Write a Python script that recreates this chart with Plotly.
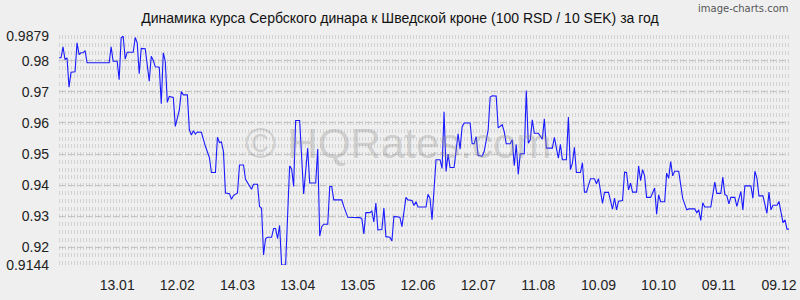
import pandas as pd
import plotly.graph_objects as go

# ---- data ----
start_date = "2014-12-15"
day_offsets = [0, 1, 2, 3, 4, 5, 6, 8, 9, 10, 11, 12, 13, 14, 25, 26, 27, 29, 30, 31, 32, 33, 34, 37, 38, 39, 40, 41, 43, 44,
               45, 46, 47, 48, 50, 51, 52, 53, 54, 55, 57, 58, 60, 61, 62, 64, 65, 66, 67, 68, 69, 71, 73, 75, 76, 78, 79, 80, 81, 82,
               83, 85, 86, 87, 89, 90, 92, 93, 95, 96, 97, 99, 100, 101, 102, 103, 104, 106, 107, 108, 109, 110, 111, 113, 115, 116, 117, 118, 120, 121,
               122, 124, 125, 128, 129, 130, 131, 132, 134, 135, 136, 137, 141, 142, 144, 150, 151, 152, 153, 155, 156, 157, 158, 159, 161, 162, 163, 165, 166, 167,
               170, 171, 173, 174, 176, 177, 178, 179, 181, 183, 184, 185, 186, 188, 190, 191, 192, 193, 194, 195, 197, 198, 199, 200, 201, 202, 205, 206, 207, 208,
               209, 211, 212, 214, 215, 216, 218, 219, 220, 221, 222, 223, 225, 226, 227, 228, 229, 230, 232, 233, 234, 235, 236, 237, 239, 241, 242, 243, 246, 247,
               248, 249, 250, 251, 253, 254, 255, 256, 257, 258, 260, 261, 262, 263, 265, 267, 268, 269, 270, 271, 272, 274, 276, 277, 278, 279, 281, 282, 283, 284,
               285, 286, 288, 289, 290, 291, 292, 293, 295, 297, 298, 299, 300, 302, 303, 304, 305, 306, 307, 309, 311, 313, 314, 317, 318, 319, 320, 321, 322, 325,
               327, 328, 330, 331, 332, 333, 334, 335, 337, 338, 340, 341, 342, 345, 346, 347, 348, 349, 351, 353, 354, 355, 356, 358, 359, 361, 362, 363, 364]
rates = [0.9809, 0.9809, 0.9844, 0.9803, 0.9809, 0.9715, 0.9763, 0.9764, 0.9857, 0.9819, 0.9825, 0.9825, 0.9832, 0.9793, 0.9793, 0.9844, 0.9798, 0.9798, 0.9739, 0.9873,
         0.9879, 0.9805, 0.9827, 0.9827, 0.9874, 0.9857, 0.9758, 0.9839, 0.9838, 0.9793, 0.9734, 0.9814, 0.9801, 0.9780, 0.9779, 0.9662, 0.9825, 0.9798, 0.9666, 0.9685,
         0.9682, 0.9589, 0.9642, 0.9701, 0.9690, 0.9690, 0.9578, 0.9561, 0.9575, 0.9564, 0.9571, 0.9570, 0.9525, 0.9489, 0.9441, 0.9441, 0.9554, 0.9537, 0.9539, 0.9508,
         0.9375, 0.9373, 0.9355, 0.9367, 0.9375, 0.9465, 0.9465, 0.9419, 0.9396, 0.9387, 0.9403, 0.9403, 0.9332, 0.9326, 0.9176, 0.9229, 0.9233, 0.9233, 0.9261, 0.9261,
         0.9229, 0.9271, 0.9144, 0.9144, 0.9462, 0.9452, 0.9396, 0.9608, 0.9608, 0.9492, 0.9372, 0.9519, 0.9407, 0.9407, 0.9516, 0.9237, 0.9267, 0.9275, 0.9275, 0.9396,
         0.9396, 0.9353, 0.9353, 0.9332, 0.9297, 0.9296, 0.9293, 0.9244, 0.9312, 0.9312, 0.9317, 0.9282, 0.9343, 0.9257, 0.9258, 0.9327, 0.9235, 0.9233, 0.9221, 0.9300,
         0.9297, 0.9267, 0.9361, 0.9353, 0.9351, 0.9335, 0.9347, 0.9330, 0.9330, 0.9330, 0.9371, 0.9358, 0.9289, 0.9482, 0.9482, 0.9454, 0.9636, 0.9444, 0.9500, 0.9457,
         0.9457, 0.9508, 0.9565, 0.9516, 0.9587, 0.9600, 0.9600, 0.9533, 0.9533, 0.9556, 0.9495, 0.9493, 0.9508, 0.9578, 0.9683, 0.9687, 0.9686, 0.9584, 0.9589, 0.9594,
         0.9572, 0.9533, 0.9533, 0.9546, 0.9463, 0.9531, 0.9435, 0.9501, 0.9501, 0.9704, 0.9535, 0.9546, 0.9610, 0.9567, 0.9567, 0.9548, 0.9613, 0.9519, 0.9519, 0.9554,
         0.9520, 0.9487, 0.9531, 0.9482, 0.9482, 0.9619, 0.9450, 0.9471, 0.9522, 0.9441, 0.9441, 0.9472, 0.9378, 0.9378, 0.9421, 0.9421, 0.9405, 0.9421, 0.9382, 0.9342,
         0.9377, 0.9377, 0.9323, 0.9359, 0.9321, 0.9349, 0.9351, 0.9442, 0.9441, 0.9385, 0.9407, 0.9378, 0.9378, 0.9462, 0.9415, 0.9450, 0.9430, 0.9361, 0.9361, 0.9391,
         0.9307, 0.9369, 0.9347, 0.9347, 0.9439, 0.9422, 0.9476, 0.9430, 0.9445, 0.9445, 0.9358, 0.9321, 0.9324, 0.9324, 0.9312, 0.9321, 0.9287, 0.9344, 0.9330, 0.9330,
         0.9410, 0.9374, 0.9374, 0.9426, 0.9370, 0.9367, 0.9340, 0.9361, 0.9361, 0.9332, 0.9380, 0.9321, 0.9398, 0.9398, 0.9358, 0.9445, 0.9423, 0.9366, 0.9366, 0.9310,
         0.9378, 0.9321, 0.9336, 0.9336, 0.9348, 0.9280, 0.9289, 0.9259, 0.9259]
x_tick_dates = ["2015-01-13", "2015-02-12", "2015-03-14", "2015-04-13", "2015-05-13", "2015-06-12",
                "2015-07-12", "2015-08-11", "2015-09-10", "2015-10-10", "2015-11-09", "2015-12-09"]
x_tick_labels = ["13.01", "12.02", "14.03", "13.04", "13.05", "12.06",
                 "12.07", "11.08", "10.09", "10.10", "09.11", "09.12"]
y_tick_values = [0.9144, 0.92, 0.93, 0.94, 0.95, 0.96, 0.97, 0.98, 0.9879]
y_tick_labels = ["0.9144", "0.92", "0.93", "0.94", "0.95", "0.96", "0.97", "0.98", "0.9879"]
title_text = "Динамика курса Сербского динара к Шведской кроне (100 RSD / 10 SEK) за год"

dates = pd.Timestamp(start_date) + pd.to_timedelta(day_offsets, unit="D")

BG = "#efefef"
FONT = "Liberation Sans, Arial, sans-serif"

fig = go.Figure()
fig.add_trace(go.Scatter(x=dates, y=rates, mode="lines",
                         line=dict(color="#1a1aff", width=1.1), hoverinfo="skip"))

fig.update_layout(
    width=800, height=300,
    paper_bgcolor=BG, plot_bgcolor=BG,
    margin=dict(l=59, r=3, t=36, b=35),
    showlegend=False,
    font=dict(family=FONT, size=14, color="#222"),
    title=dict(text=title_text, x=0.5, xanchor="center", y=0.94, yanchor="middle",
               font=dict(family=FONT, size=14, color="#111")),
)
fig.update_xaxes(
    type="date",
    range=[dates[0], dates[-1]],
    tickvals=pd.to_datetime(x_tick_dates), ticktext=x_tick_labels,
    showgrid=False, zeroline=False, showline=False, ticks="",
    ticklabelstandoff=10, ticklabeloverflow="allow",
    tickfont=dict(size=14, color="#222"),
)
fig.update_yaxes(
    range=[y_tick_values[0], y_tick_values[-1]],
    tickvals=y_tick_values, ticktext=y_tick_labels,
    showgrid=True, gridcolor="#c4c4c4", griddash="6px,3px", gridwidth=1,
    minor=dict(dtick=0.0025, tick0=0.92, showgrid=True, gridcolor="#d2d2d2",
               griddash="1px,2px", gridwidth=4),
    zeroline=False, showline=False, ticks="",
    ticklabelstandoff=9,
    tickfont=dict(size=14, color="#222"),
)

fig.add_annotation(text="© HQRates.com", xref="paper", yref="paper", x=0.465, y=0.53,
                   xanchor="center", yanchor="middle", showarrow=False,
                   font=dict(family=FONT, size=42, color="rgba(140,140,140,0.32)"))
fig.add_annotation(text="image-charts.com", xref="paper", yref="paper", x=1.0, y=1.0,
                   xanchor="right", yanchor="top", showarrow=False,
                   yshift=35, xshift=2,
                   font=dict(family="DejaVu Sans, sans-serif", size=10, color="#555"))

fig.write_html("out.html")
